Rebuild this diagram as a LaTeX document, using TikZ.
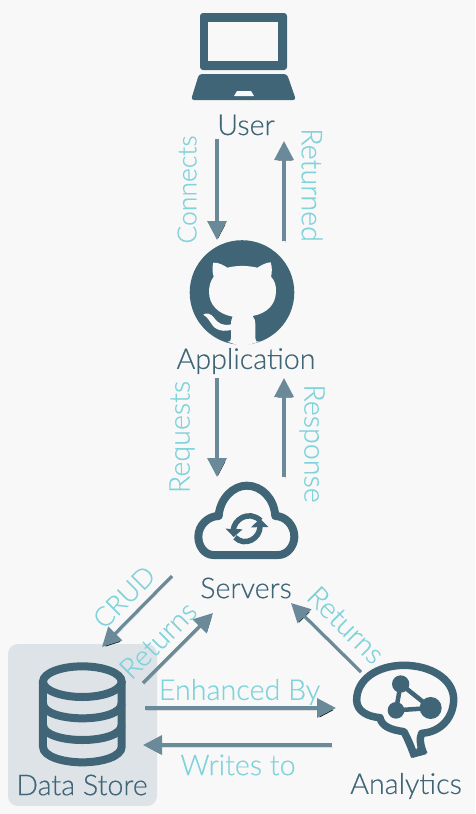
\documentclass[tikz,border=0pt]{standalone}
\usepackage{fontspec}
\setmainfont{Lato Light}[RawFeature={embolden=0.35}]
\usetikzlibrary{arrows.meta}
\definecolor{bgc}{HTML}{F8F8F8}
\definecolor{dark}{HTML}{3F6577}
\definecolor{arr}{HTML}{6A8A9A}
\definecolor{lab}{HTML}{7FD3DB}
\definecolor{boxc}{HTML}{DEE3E8}
\tikzset{
  flow/.style={draw=arr,line width=3.2pt,-{Triangle[length=19pt,width=19pt]},
    preaction={draw=black,draw opacity=.10,transform canvas={xshift=1pt,yshift=-2pt}}},
  elabel/.style={text=lab,font=\fontsize{28.7}{28}\selectfont,inner sep=0pt},
  nlabel/.style={text=dark,font=\fontsize{28.7}{28}\selectfont,inner sep=0pt},
}
\begin{document}
\begin{tikzpicture}[x=1pt,y=-1pt]
\useasboundingbox (0,0) rectangle (475,814);
\fill[bgc] (0,0) rectangle (475,814);
\fill[boxc,rounded corners=10pt] (8,644) rectangle (157,806);

% laptop
\fill[dark,rounded corners=3pt] (200,13) -- (287,13) -- (287,70) -- (200,70) -- cycle;
\fill[bgc] (208,22) rectangle (278,61);
\fill[dark,rounded corners=3pt] (199,74) -- (287,74) -- (296,100) -- (191,100) -- cycle;
\fill[bgc] (237,91) -- (251,91) -- (254,96) -- (234,96) -- cycle;

% github
\fill[dark] (242,292.5) circle[radius=52.3];
\begin{scope}[shift={(170,230)},scale=1/3]
\fill[bgc] (130,98) .. controls (145,97) and (160,105) .. (172,113)
  .. controls (200,106) and (232,106) .. (262,113)
  .. controls (275,105) and (290,97) .. (302,97)
  .. controls (307,112) and (306,128) .. (303,140)
  .. controls (315,152) and (319,170) .. (318,185)
  .. controls (317,225) and (290,250) .. (248,258)
  .. controls (254,265) and (256,272) .. (256,285)
  -- (256,325) .. controls (256,333) and (260,337) .. (268,335)
  -- (216,350) -- (172,335)
  .. controls (180,337) and (183,332) .. (183,325)
  -- (183,300) .. controls (150,308) and (130,295) .. (120,275)
  .. controls (113,265) and (108,258) .. (100,254)
  .. controls (108,247) and (122,250) .. (132,263)
  .. controls (145,282) and (160,288) .. (183,283)
  .. controls (183,272) and (185,265) .. (188,260)
  .. controls (145,252) and (117,225) .. (117,185)
  .. controls (117,168) and (122,152) .. (131,140)
  .. controls (127,128) and (126,112) .. (130,98) -- cycle;
\end{scope}

% cloud
\begin{scope}[shift={(170,470)},scale=1/3]
\draw[dark,line width=8pt,line join=round] (130,255) .. controls (105,255) and (85,230) .. (85,200)
  .. controls (85,165) and (115,138) .. (146,138)
  .. controls (150,85) and (190,47) .. (230,47)
  .. controls (275,47) and (312,85) .. (316,138)
  .. controls (345,138) and (373,165) .. (373,200)
  .. controls (373,230) and (350,255) .. (325,255) -- cycle;
\draw[dark,line width=5.5pt] (190,182) .. controls (190,150) and (235,118) .. (272,152);
\draw[dark,line width=5.5pt] (270,170) .. controls (270,205) and (225,232) .. (195,202);
\fill[dark] (167,176) -- (218,178) -- (191,201) -- cycle;
\fill[dark] (243,172) -- (295,171) -- (270,146) -- cycle;
\end{scope}

% database
\begin{scope}[shift={(0,630)},scale=1/3]
\draw[dark,line width=8pt] (247,155) ellipse[x radius=118,y radius=46];
\draw[dark,line width=8pt] (129,155) -- (129,350) .. controls (129,380) and (190,397) .. (247,397)
  .. controls (305,397) and (365,380) .. (365,350) -- (365,155);
\draw[dark,line width=8pt] (129,220) .. controls (129,250) and (190,265) .. (247,265)
  .. controls (305,265) and (365,250) .. (365,220);
\draw[dark,line width=8pt] (129,285) .. controls (129,315) and (190,330) .. (247,330)
  .. controls (305,330) and (365,315) .. (365,285);
\end{scope}

% brain
\begin{scope}[shift={(330,650)},scale=1/3]
\draw[dark,line width=7.5pt,line join=round] (282,313) .. controls (270,285) and (268,265) .. (275,250)
  .. controls (340,245) and (372,195) .. (371,145)
  .. controls (368,85) and (300,46) .. (222,46)
  .. controls (140,46) and (80,90) .. (80,150)
  .. controls (80,185) and (115,200) .. (150,203)
  .. controls (155,230) and (185,240) .. (222,245)
  .. controls (235,270) and (245,295) .. (254,320);
\fill[dark] (247,324) -- (290,312) -- (262,292) -- cycle;
\draw[dark,line width=4.5pt] (212,102) -- (198,181) -- (302,174) -- cycle;
\fill[dark] (212,102) circle[radius=26];
\fill[dark] (198,181) circle[radius=25];
\fill[dark] (302,174) circle[radius=33];
\end{scope}

% names
\node[nlabel] (user) at (246,125) {User};
\node[nlabel] (app) at (246,361) {Application};
\node[nlabel] (srv) at (246,588) {Servers};
\node[nlabel] (store) at (82,785) {Data Store};
\node[nlabel] (ana) at (406,786) {Analytics};

% connector ends
\coordinate (c1a) at (217,139); \coordinate (c1b) at (217,240);
\coordinate (c2a) at (284,241); \coordinate (c2b) at (284,141);
\coordinate (c3a) at (217,378); \coordinate (c3b) at (217,477);
\coordinate (c4a) at (284,477); \coordinate (c4b) at (284,378);
\coordinate (c5a) at (172,576); \coordinate (c5b) at (102,647);
\coordinate (c6a) at (143,683); \coordinate (c6b) at (213,613);
\coordinate (c7a) at (361,672); \coordinate (c7b) at (291,603);
\coordinate (c8a) at (145,708); \coordinate (c8b) at (336,708);
\coordinate (c9a) at (332,745); \coordinate (c9b) at (143,745);

\draw[flow] (c1a) -- (c1b);
\draw[flow] (c2a) -- (c2b);
\draw[flow] (c3a) -- (c3b);
\draw[flow] (c4a) -- (c4b);
\draw[flow] (c5a) -- (c5b);
\draw[flow] (c6a) -- (c6b);
\draw[flow] (c7a) -- (c7b);
\draw[flow] (c8a) -- (c8b);
\draw[flow] (c9a) -- (c9b);

% labels
\node[elabel,rotate=90,font=\fontsize{26.5}{28}\selectfont] (l1) at (187,189.5) {Connects};
\node[elabel,rotate=-90] (l2) at (312,185) {Returned};
\node[elabel,rotate=90] (l3) at (182,437) {Requests};
\node[elabel,rotate=-90] (l4) at (312,443.5) {Response};
\node[elabel,rotate=45,font=\fontsize{27}{28}\selectfont] (l5) at (124,597) {CRUD};
\node[elabel,rotate=45] (l6) at (158,640) {Returns};
\node[elabel,rotate=-45] (l7) at (346,625) {Returns};
\node[elabel] (l8) at (239.5,692) {Enhanced By};
\node[elabel] (l9) at (238,765) {Writes to};
\end{tikzpicture}
\end{document}
